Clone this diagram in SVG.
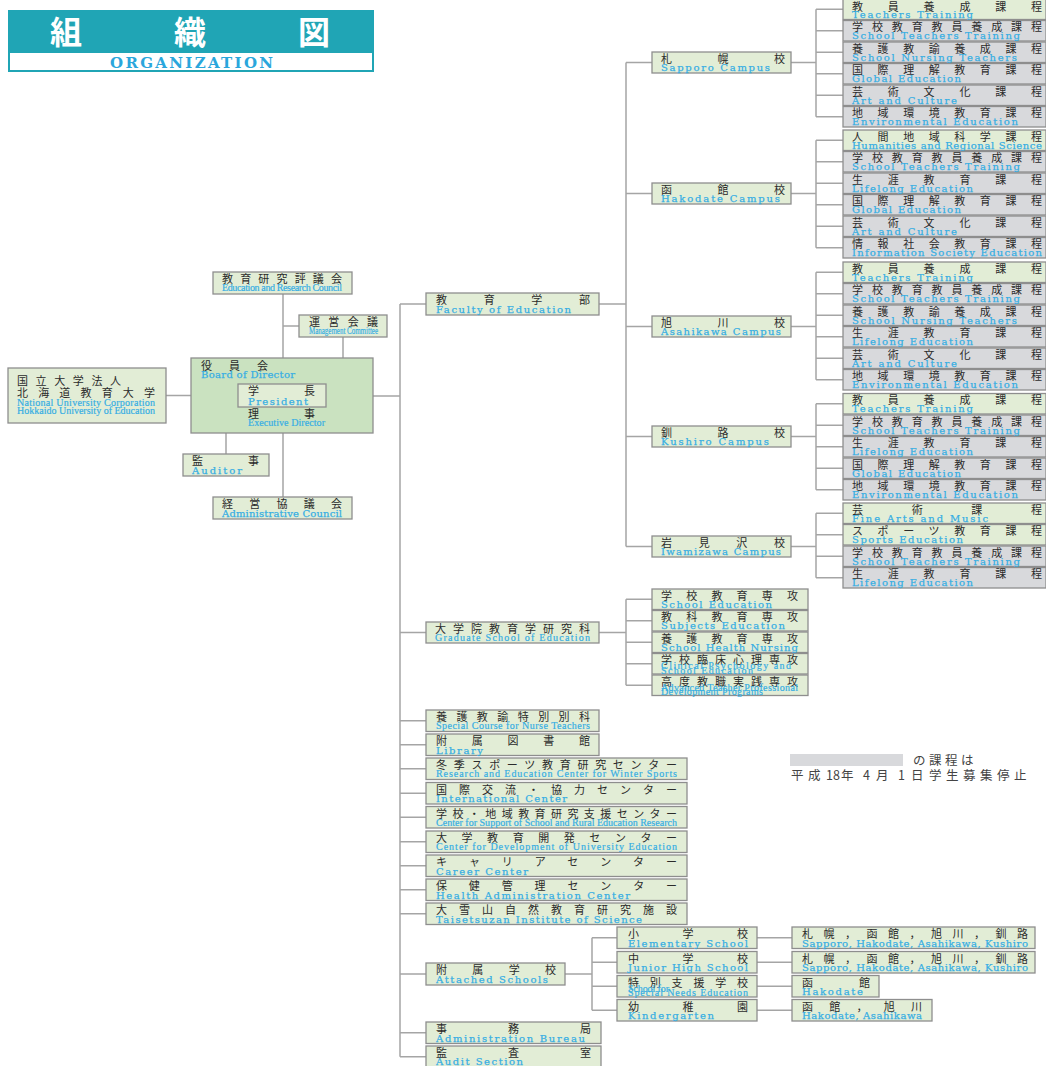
<svg xmlns="http://www.w3.org/2000/svg" width="1046" height="1066" viewBox="0 0 1046 1066">
<style>
.b{fill:#e2edd6;stroke:#8e8e8e;stroke-width:1.3}
.g{fill:#d8d9dc;stroke:#8e8e8e;stroke-width:1.3}
.bd{fill:#cae2c0;stroke:#8e8e8e;stroke-width:1.3}
.j{font-family:"Noto Sans CJK JP","Noto Sans CJK SC",sans-serif;font-size:11px;fill:#2b2b2b}
.e{font-family:"Liberation Serif",serif;font-size:10px;fill:#36aee3;stroke:#36aee3;stroke-width:0.2}
.w{font-family:"DejaVu Serif",serif;font-size:10px;fill:#36aee3;stroke:#36aee3;stroke-width:0.25}
.c path{stroke:#a5a5a5;stroke-width:1.5;fill:none}
</style>
<rect width="1046" height="1066" fill="#fff"/>
<g id="title">
<rect x="8" y="10" width="366" height="62" fill="#20a5b5"/>
<rect x="10" y="53" width="362" height="17" fill="#fff"/>
<text x="50" y="44" font-family="Noto Sans CJK JP,sans-serif" font-size="32" font-weight="bold" fill="#fff" textLength="280" lengthAdjust="spacing">組織図</text>
<text x="110" y="68" font-family="DejaVu Serif,serif" font-size="15" font-weight="bold" fill="#2aa6dc" textLength="163" lengthAdjust="spacing">ORGANIZATION</text>
</g>
<g class="c" id="connectors">
<path d="M166 395.5H191M283 294V358M283 326H299M343 337V358M226 433V454M283 433V497M373 396H400"/>
<path d="M400 304V1056.75M400 304H426M599 304H626M626 62.5V546.5"/>
<path d="M626 62.5H652M626 193.5H652M626 326.5H652M626 436.5H652M626 546.5H652"/>
<path d="M791 62.5H816M816 9.25V116.75M816 9.25H843M816 30.75H843M816 52.25H843M816 73.75H843M816 95.25H843M816 116.75H843"/>
<path d="M791 193.5H816M816 140.25V247.75M816 140.25H843M816 161.75H843M816 183.25H843M816 204.75H843M816 226.25H843M816 247.75H843"/>
<path d="M791 326.5H816M816 272.25V379.75M816 272.25H843M816 293.75H843M816 315.25H843M816 336.75H843M816 358.25H843M816 379.75H843"/>
<path d="M791 436.5H816M816 403.75V489.75M816 403.75H843M816 425.25H843M816 446.75H843M816 468.25H843M816 489.75H843"/>
<path d="M791 546.5H816M816 513.25V577.75M816 513.25H843M816 534.75H843M816 556.25H843M816 577.75H843"/>
<path d="M400 632.5H426M599 632.5H626M626 599.25V685.25M626 599.25H652M626 620.75H652M626 642.25H652M626 663.75H652M626 685.25H652"/>
<path d="M400 720.75H426M400 744.75H426M400 768.75H426M400 793.25H426M400 817.25H426M400 841.75H426M400 865.75H426M400 889.75H426M400 913.75H426"/>
<path d="M400 974H426M565 974H592M592 937.75V1010.25M592 937.75H617M592 962.25H617M592 986.25H617M592 1010.25H617"/>
<path d="M757 937.75H792M757 962.25H792M757 986.25H792M757 1010.25H792"/>
<path d="M400 1032.75H426M400 1056.75H426"/>
</g>
<g id="corp"><rect class="b" x="8" y="368" width="158" height="55"/>
<text class="j" x="17" y="385" textLength="104" lengthAdjust="spacing">国立大学法人</text>
<text class="j" x="17" y="397" textLength="138" lengthAdjust="spacing">北海道教育大学</text>
<text class="e" x="17" y="406" font-size="9.5" textLength="138" lengthAdjust="spacing">National University Corporation</text>
<text class="e" x="17" y="414" font-size="9.5" textLength="138" lengthAdjust="spacing">Hokkaido University of Education</text></g>
<g id="board"><rect class="bd" x="191" y="358" width="182" height="75"/>
<text class="j" x="201" y="369.5" textLength="67" lengthAdjust="spacing">役員会</text>
<text class="w" x="201" y="377.5" font-size="9" textLength="94" lengthAdjust="spacing">Board of Director</text>
<rect class="b" x="238" y="384" width="88" height="23"/>
<text class="j" x="248" y="395" textLength="67" lengthAdjust="spacing">学長</text>
<text class="w" x="248" y="404.5" font-size="10.5" textLength="60" lengthAdjust="spacing">President</text>
<text class="j" x="248" y="417.5" textLength="67" lengthAdjust="spacing">理事</text>
<text class="e" x="248" y="426" font-size="9.5" textLength="77" lengthAdjust="spacing">Executive Director</text></g>
<g id="council"><rect class="b" x="213" y="272" width="139" height="22"/>
<text class="j" x="222" y="282.5" textLength="120" lengthAdjust="spacing">教育研究評議会</text>
<text class="e" x="222" y="291" font-size="8.5" textLength="120" lengthAdjust="spacing">Education and Research Council</text></g>
<g id="mgmt"><rect class="b" x="299" y="315" width="88" height="22"/>
<text class="j" x="309" y="325.5" textLength="69" lengthAdjust="spacing">運営会議</text>
<text class="e" x="309" y="334" font-size="7.5" textLength="69" lengthAdjust="spacingAndGlyphs">Management Committee</text></g>
<g id="auditor"><rect class="b" x="183" y="454" width="86" height="22"/>
<text class="j" x="192" y="464.5" textLength="67" lengthAdjust="spacing">監事</text>
<text class="w" x="192" y="473.5" textLength="50" lengthAdjust="spacing">Auditor</text></g>
<g id="admincouncil"><rect class="b" x="213" y="497" width="139" height="22"/>
<text class="j" x="222" y="507.5" textLength="120" lengthAdjust="spacing">経営協議会</text>
<text class="w" x="222" y="516.5" font-size="9" textLength="120" lengthAdjust="spacing">Administrative Council</text></g>
<g id="faculty"><rect class="b" x="426" y="293" width="173" height="22"/>
<text class="j" x="436" y="304" textLength="154" lengthAdjust="spacing">教育学部</text>
<text class="w" x="436" y="312.5" textLength="135" lengthAdjust="spacing">Faculty of Education</text></g>
<g id="sapporo"><rect class="b" x="652" y="52" width="139" height="21"/>
<text class="j" x="661" y="63" textLength="124" lengthAdjust="spacing">札幌校</text>
<text class="w" x="661" y="70.5" textLength="109" lengthAdjust="spacing">Sapporo Campus</text></g>
<g id="hakodate"><rect class="b" x="652" y="183" width="139" height="21"/>
<text class="j" x="661" y="194" textLength="124" lengthAdjust="spacing">函館校</text>
<text class="w" x="661" y="201.5" textLength="119" lengthAdjust="spacing">Hakodate Campus</text></g>
<g id="asahikawa"><rect class="b" x="652" y="316" width="139" height="21"/>
<text class="j" x="661" y="327" textLength="124" lengthAdjust="spacing">旭川校</text>
<text class="w" x="661" y="334.5" textLength="120" lengthAdjust="spacing">Asahikawa Campus</text></g>
<g id="kushiro"><rect class="b" x="652" y="426" width="139" height="21"/>
<text class="j" x="661" y="437" textLength="124" lengthAdjust="spacing">釧路校</text>
<text class="w" x="661" y="444.5" textLength="108" lengthAdjust="spacing">Kushiro Campus</text></g>
<g id="iwamizawa"><rect class="b" x="652" y="536" width="139" height="21"/>
<text class="j" x="661" y="547" textLength="124" lengthAdjust="spacing">岩見沢校</text>
<text class="w" x="661" y="554.5" textLength="120" lengthAdjust="spacing">Iwamizawa Campus</text></g>
<g id="sp1"><rect class="b" x="843" y="-1" width="203" height="20.5"/><text class="j" x="852" y="10.5" textLength="190" lengthAdjust="spacing">教員養成課程</text><text class="w" x="852" y="17.5" textLength="121" lengthAdjust="spacing">Teachers Training</text></g>
<g id="sp2"><rect class="g" x="843" y="20.5" width="203" height="20.5"/><text class="j" x="852" y="31" textLength="190" lengthAdjust="spacing">学校教育教員養成課程</text><text class="w" x="852" y="39" textLength="168" lengthAdjust="spacing">School Teachers Training</text></g>
<g id="sp3"><rect class="g" x="843" y="42" width="203" height="20.5"/><text class="j" x="852" y="52.5" textLength="190" lengthAdjust="spacing">養護教諭養成課程</text><text class="w" x="852" y="60.5" textLength="165" lengthAdjust="spacing">School Nursing Teachers</text></g>
<g id="sp4"><rect class="g" x="843" y="63.5" width="203" height="20.5"/><text class="j" x="852" y="74" textLength="190" lengthAdjust="spacing">国際理解教育課程</text><text class="w" x="852" y="82" textLength="109" lengthAdjust="spacing">Global Education</text></g>
<g id="sp5"><rect class="g" x="843" y="85" width="203" height="20.5"/><text class="j" x="852" y="95.5" textLength="190" lengthAdjust="spacing">芸術文化課程</text><text class="w" x="852" y="103.5" textLength="105" lengthAdjust="spacing">Art and Culture</text></g>
<g id="sp6"><rect class="g" x="843" y="106.5" width="203" height="20.5"/><text class="j" x="852" y="117" textLength="190" lengthAdjust="spacing">地域環境教育課程</text><text class="w" x="852" y="125" textLength="166" lengthAdjust="spacing">Environmental Education</text></g>
<g id="hk1"><rect class="b" x="843" y="130" width="203" height="20.5"/><text class="j" x="852" y="140.5" textLength="190" lengthAdjust="spacing">人間地域科学課程</text><text class="w" x="852" y="148.5" textLength="190" lengthAdjust="spacing">Humanities and Regional Science</text></g>
<g id="hk2"><rect class="g" x="843" y="151.5" width="203" height="20.5"/><text class="j" x="852" y="162" textLength="190" lengthAdjust="spacing">学校教育教員養成課程</text><text class="w" x="852" y="170" textLength="168" lengthAdjust="spacing">School Teachers Training</text></g>
<g id="hk3"><rect class="g" x="843" y="173" width="203" height="20.5"/><text class="j" x="852" y="183.5" textLength="190" lengthAdjust="spacing">生涯教育課程</text><text class="w" x="852" y="191.5" textLength="121" lengthAdjust="spacing">Lifelong Education</text></g>
<g id="hk4"><rect class="g" x="843" y="194.5" width="203" height="20.5"/><text class="j" x="852" y="205" textLength="190" lengthAdjust="spacing">国際理解教育課程</text><text class="w" x="852" y="213" textLength="109" lengthAdjust="spacing">Global Education</text></g>
<g id="hk5"><rect class="g" x="843" y="216" width="203" height="20.5"/><text class="j" x="852" y="226.5" textLength="190" lengthAdjust="spacing">芸術文化課程</text><text class="w" x="852" y="234.5" textLength="105" lengthAdjust="spacing">Art and Culture</text></g>
<g id="hk6"><rect class="g" x="843" y="237.5" width="203" height="20.5"/><text class="j" x="852" y="248" textLength="190" lengthAdjust="spacing">情報社会教育課程</text><text class="w" x="852" y="256" textLength="190" lengthAdjust="spacing">Information Society Education</text></g>
<g id="as1"><rect class="b" x="843" y="262" width="203" height="20.5"/><text class="j" x="852" y="272.5" textLength="190" lengthAdjust="spacing">教員養成課程</text><text class="w" x="852" y="280.5" textLength="121" lengthAdjust="spacing">Teachers Training</text></g>
<g id="as2"><rect class="g" x="843" y="283.5" width="203" height="20.5"/><text class="j" x="852" y="294" textLength="190" lengthAdjust="spacing">学校教育教員養成課程</text><text class="w" x="852" y="302" textLength="168" lengthAdjust="spacing">School Teachers Training</text></g>
<g id="as3"><rect class="g" x="843" y="305" width="203" height="20.5"/><text class="j" x="852" y="315.5" textLength="190" lengthAdjust="spacing">養護教諭養成課程</text><text class="w" x="852" y="323.5" textLength="165" lengthAdjust="spacing">School Nursing Teachers</text></g>
<g id="as4"><rect class="g" x="843" y="326.5" width="203" height="20.5"/><text class="j" x="852" y="337" textLength="190" lengthAdjust="spacing">生涯教育課程</text><text class="w" x="852" y="345" textLength="121" lengthAdjust="spacing">Lifelong Education</text></g>
<g id="as5"><rect class="g" x="843" y="348" width="203" height="20.5"/><text class="j" x="852" y="358.5" textLength="190" lengthAdjust="spacing">芸術文化課程</text><text class="w" x="852" y="366.5" textLength="105" lengthAdjust="spacing">Art and Culture</text></g>
<g id="as6"><rect class="g" x="843" y="369.5" width="203" height="20.5"/><text class="j" x="852" y="380" textLength="190" lengthAdjust="spacing">地域環境教育課程</text><text class="w" x="852" y="388" textLength="166" lengthAdjust="spacing">Environmental Education</text></g>
<g id="ku1"><rect class="b" x="843" y="393.5" width="203" height="20.5"/><text class="j" x="852" y="404" textLength="190" lengthAdjust="spacing">教員養成課程</text><text class="w" x="852" y="412" textLength="121" lengthAdjust="spacing">Teachers Training</text></g>
<g id="ku2"><rect class="g" x="843" y="415" width="203" height="20.5"/><text class="j" x="852" y="425.5" textLength="190" lengthAdjust="spacing">学校教育教員養成課程</text><text class="w" x="852" y="433.5" textLength="168" lengthAdjust="spacing">School Teachers Training</text></g>
<g id="ku3"><rect class="g" x="843" y="436.5" width="203" height="20.5"/><text class="j" x="852" y="447" textLength="190" lengthAdjust="spacing">生涯教育課程</text><text class="w" x="852" y="455" textLength="121" lengthAdjust="spacing">Lifelong Education</text></g>
<g id="ku4"><rect class="g" x="843" y="458" width="203" height="20.5"/><text class="j" x="852" y="468.5" textLength="190" lengthAdjust="spacing">国際理解教育課程</text><text class="w" x="852" y="476.5" textLength="109" lengthAdjust="spacing">Global Education</text></g>
<g id="ku5"><rect class="g" x="843" y="479.5" width="203" height="20.5"/><text class="j" x="852" y="490" textLength="190" lengthAdjust="spacing">地域環境教育課程</text><text class="w" x="852" y="498" textLength="166" lengthAdjust="spacing">Environmental Education</text></g>
<g id="iw1"><rect class="b" x="843" y="503" width="203" height="20.5"/><text class="j" x="852" y="513.5" textLength="190" lengthAdjust="spacing">芸術課程</text><text class="w" x="852" y="521.5" textLength="136" lengthAdjust="spacing">Fine Arts and Music</text></g>
<g id="iw2"><rect class="b" x="843" y="524.5" width="203" height="20.5"/><text class="j" x="852" y="535" textLength="190" lengthAdjust="spacing">スポーツ教育課程</text><text class="w" x="852" y="543" textLength="111" lengthAdjust="spacing">Sports Education</text></g>
<g id="iw3"><rect class="g" x="843" y="546" width="203" height="20.5"/><text class="j" x="852" y="556.5" textLength="190" lengthAdjust="spacing">学校教育教員養成課程</text><text class="w" x="852" y="564.5" textLength="168" lengthAdjust="spacing">School Teachers Training</text></g>
<g id="iw4"><rect class="g" x="843" y="567.5" width="203" height="20.5"/><text class="j" x="852" y="578" textLength="190" lengthAdjust="spacing">生涯教育課程</text><text class="w" x="852" y="586" textLength="121" lengthAdjust="spacing">Lifelong Education</text></g>
<g id="grad"><rect class="b" x="426" y="622" width="173" height="21"/>
<text class="j" x="435" y="633" textLength="155" lengthAdjust="spacing">大学院教育学研究科</text>
<text class="e" x="435" y="641" font-size="10.5" textLength="155" lengthAdjust="spacing">Graduate School of Education</text></g>
<g id="gs1"><rect class="b" x="652" y="589" width="156" height="20.5"/><text class="j" x="661" y="599.5" textLength="137" lengthAdjust="spacing">学校教育専攻</text><text class="w" x="661" y="607.5" textLength="111" lengthAdjust="spacing">School Education</text></g>
<g id="gs2"><rect class="b" x="652" y="610.5" width="156" height="20.5"/><text class="j" x="661" y="621" textLength="137" lengthAdjust="spacing">教科教育専攻</text><text class="w" x="661" y="629" textLength="124" lengthAdjust="spacing">Subjects Education</text></g>
<g id="gs3"><rect class="b" x="652" y="632" width="156" height="20.5"/><text class="j" x="661" y="642.5" textLength="137" lengthAdjust="spacing">養護教育専攻</text><text class="w" x="661" y="650.5" textLength="137" lengthAdjust="spacing">School Health Nursing</text></g>
<g id="gs4"><rect class="b" x="652" y="653.5" width="156" height="20.5"/><text class="j" x="661" y="664" textLength="137" lengthAdjust="spacing">学校臨床心理専攻</text><text class="e" x="661" y="669" font-size="6" textLength="130" lengthAdjust="spacing">Clinical Psychology and</text><text class="e" x="661" y="673.5" font-size="6" textLength="92" lengthAdjust="spacing">School Education</text></g>
<g id="gs5"><rect class="b" x="652" y="675" width="156" height="20.5"/><text class="j" x="661" y="685.5" textLength="137" lengthAdjust="spacing">高度教職実践専攻</text><text class="e" x="661" y="690.5" font-size="6" textLength="137" lengthAdjust="spacing">Advanced Teacher Professional</text><text class="e" x="661" y="695" font-size="6" textLength="102" lengthAdjust="spacing">Development Programs</text></g>
<g id="nurse"><rect class="b" x="426" y="710" width="173" height="21.5"/><text class="j" x="436" y="721" textLength="154" lengthAdjust="spacing">養護教諭特別別科</text><text class="e" x="436" y="729" font-size="9" textLength="154" lengthAdjust="spacing">Special Course for Nurse Teachers</text></g>
<g id="library"><rect class="b" x="426" y="734" width="173" height="21.5"/><text class="j" x="436" y="745" textLength="154" lengthAdjust="spacing">附属図書館</text><text class="w" x="436" y="753.5" font-size="10.5" textLength="47" lengthAdjust="spacing">Library</text></g>
<g id="winter"><rect class="b" x="426" y="758" width="261" height="21.5"/><text class="j" x="436" y="769" textLength="241" lengthAdjust="spacing">冬季スポーツ教育研究センター</text><text class="e" x="436" y="777" font-size="9.5" textLength="241" lengthAdjust="spacing">Research and Education Center for Winter Sports</text></g>
<g id="intl"><rect class="b" x="426" y="782.5" width="261" height="21.5"/><text class="j" x="436" y="793.5" textLength="241" lengthAdjust="spacing">国際交流・協力センター</text><text class="w" x="436" y="802" textLength="131" lengthAdjust="spacing">International Center</text></g>
<g id="rural"><rect class="b" x="426" y="806.5" width="261" height="21.5"/><text class="j" x="436" y="817.5" textLength="241" lengthAdjust="spacing">学校・地域教育研究支援センター</text><text class="e" x="436" y="825.5" font-size="8.5" textLength="241" lengthAdjust="spacing">Center for Support of School and Rural Education Research</text></g>
<g id="univ"><rect class="b" x="426" y="831" width="261" height="21.5"/><text class="j" x="436" y="842" textLength="241" lengthAdjust="spacing">大学教育開発センター</text><text class="e" x="436" y="850" font-size="10" textLength="241" lengthAdjust="spacing">Center for Development of University Education</text></g>
<g id="career"><rect class="b" x="426" y="855" width="261" height="21.5"/><text class="j" x="436" y="866" textLength="241" lengthAdjust="spacing">キャリアセンター</text><text class="w" x="436" y="874.5" textLength="92" lengthAdjust="spacing">Career Center</text></g>
<g id="health"><rect class="b" x="426" y="879" width="261" height="21.5"/><text class="j" x="436" y="890" textLength="241" lengthAdjust="spacing">保健管理センター</text><text class="w" x="436" y="898.5" textLength="194" lengthAdjust="spacing">Health Administration Center</text></g>
<g id="taisetsu"><rect class="b" x="426" y="903" width="261" height="21.5"/><text class="j" x="436" y="914" textLength="241" lengthAdjust="spacing">大雪山自然教育研究施設</text><text class="w" x="436" y="922.5" textLength="206" lengthAdjust="spacing">Taisetsuzan Institute of Science</text></g>
<g id="attached"><rect class="b" x="426" y="963" width="139" height="22"/><text class="j" x="436" y="974" textLength="120" lengthAdjust="spacing">附属学校</text><text class="w" x="436" y="982.5" textLength="112" lengthAdjust="spacing">Attached Schools</text></g>
<g id="elem"><rect class="b" x="617" y="927" width="140" height="21.5"/><text class="j" x="628" y="938" textLength="120" lengthAdjust="spacing">小学校</text><text class="w" x="628" y="946.5" textLength="120" lengthAdjust="spacing">Elementary School</text></g>
<g id="junior"><rect class="b" x="617" y="951.5" width="140" height="21.5"/><text class="j" x="628" y="962.5" textLength="120" lengthAdjust="spacing">中学校</text><text class="w" x="628" y="971" textLength="120" lengthAdjust="spacing">Junior High School</text></g>
<g id="special"><rect class="b" x="617" y="975.5" width="140" height="21.5"/><text class="j" x="628" y="986.5" textLength="120" lengthAdjust="spacing">特別支援学校</text><text class="e" x="628" y="991.5" font-size="6" textLength="41" lengthAdjust="spacing">School for</text><text class="e" x="628" y="996" font-size="6" textLength="120" lengthAdjust="spacing">Special Needs Education</text></g>
<g id="kinder"><rect class="b" x="617" y="999.5" width="140" height="21.5"/><text class="j" x="628" y="1010.5" textLength="120" lengthAdjust="spacing">幼稚園</text><text class="w" x="628" y="1019" textLength="86" lengthAdjust="spacing">Kindergarten</text></g>
<g id="loc1"><rect class="b" x="792" y="927" width="243" height="21.5"/><text class="j" x="802" y="938" textLength="226" lengthAdjust="spacing">札幌，函館，旭川，釧路</text><text class="w" x="802" y="946.5" font-size="9.5" textLength="226" lengthAdjust="spacing">Sapporo, Hakodate, Asahikawa, Kushiro</text></g>
<g id="loc2"><rect class="b" x="792" y="951.5" width="243" height="21.5"/><text class="j" x="802" y="962.5" textLength="226" lengthAdjust="spacing">札幌，函館，旭川，釧路</text><text class="w" x="802" y="971" font-size="9.5" textLength="226" lengthAdjust="spacing">Sapporo, Hakodate, Asahikawa, Kushiro</text></g>
<g id="loc3"><rect class="b" x="792" y="975.5" width="87" height="21.5"/><text class="j" x="802" y="986.5" textLength="68" lengthAdjust="spacing">函館</text><text class="w" x="802" y="995" textLength="61" lengthAdjust="spacing">Hakodate</text></g>
<g id="loc4"><rect class="b" x="792" y="999.5" width="140" height="21.5"/><text class="j" x="802" y="1010.5" textLength="120" lengthAdjust="spacing">函館，旭川</text><text class="w" x="802" y="1019" font-size="9.5" textLength="120" lengthAdjust="spacing">Hakodate, Asahikawa</text></g>
<g id="bureau"><rect class="b" x="426" y="1022" width="175" height="21.5"/><text class="j" x="436" y="1033" textLength="155" lengthAdjust="spacing">事務局</text><text class="w" x="436" y="1041.5" textLength="149" lengthAdjust="spacing">Administration Bureau</text></g>
<g id="audit"><rect class="b" x="426" y="1046" width="175" height="21.5"/><text class="j" x="436" y="1057" textLength="155" lengthAdjust="spacing">監査室</text><text class="w" x="436" y="1065" textLength="87" lengthAdjust="spacing">Audit Section</text></g>
<g id="legend">
<rect x="790" y="754" width="113" height="12" fill="#d8d9dc"/>
<text x="913" y="765" font-family="Noto Sans CJK JP,sans-serif" font-size="12.5" letter-spacing="3.5" fill="#444">の課程は</text>
<text x="791 808 826 833 841 855 863 870 876 892 898 905 911 929 946 963 980 997 1014" y="780" font-family="Noto Sans CJK JP,sans-serif" font-size="12.5" fill="#444">平成18年 4 月 1 日学生募集停止</text>
</g>
</svg>
